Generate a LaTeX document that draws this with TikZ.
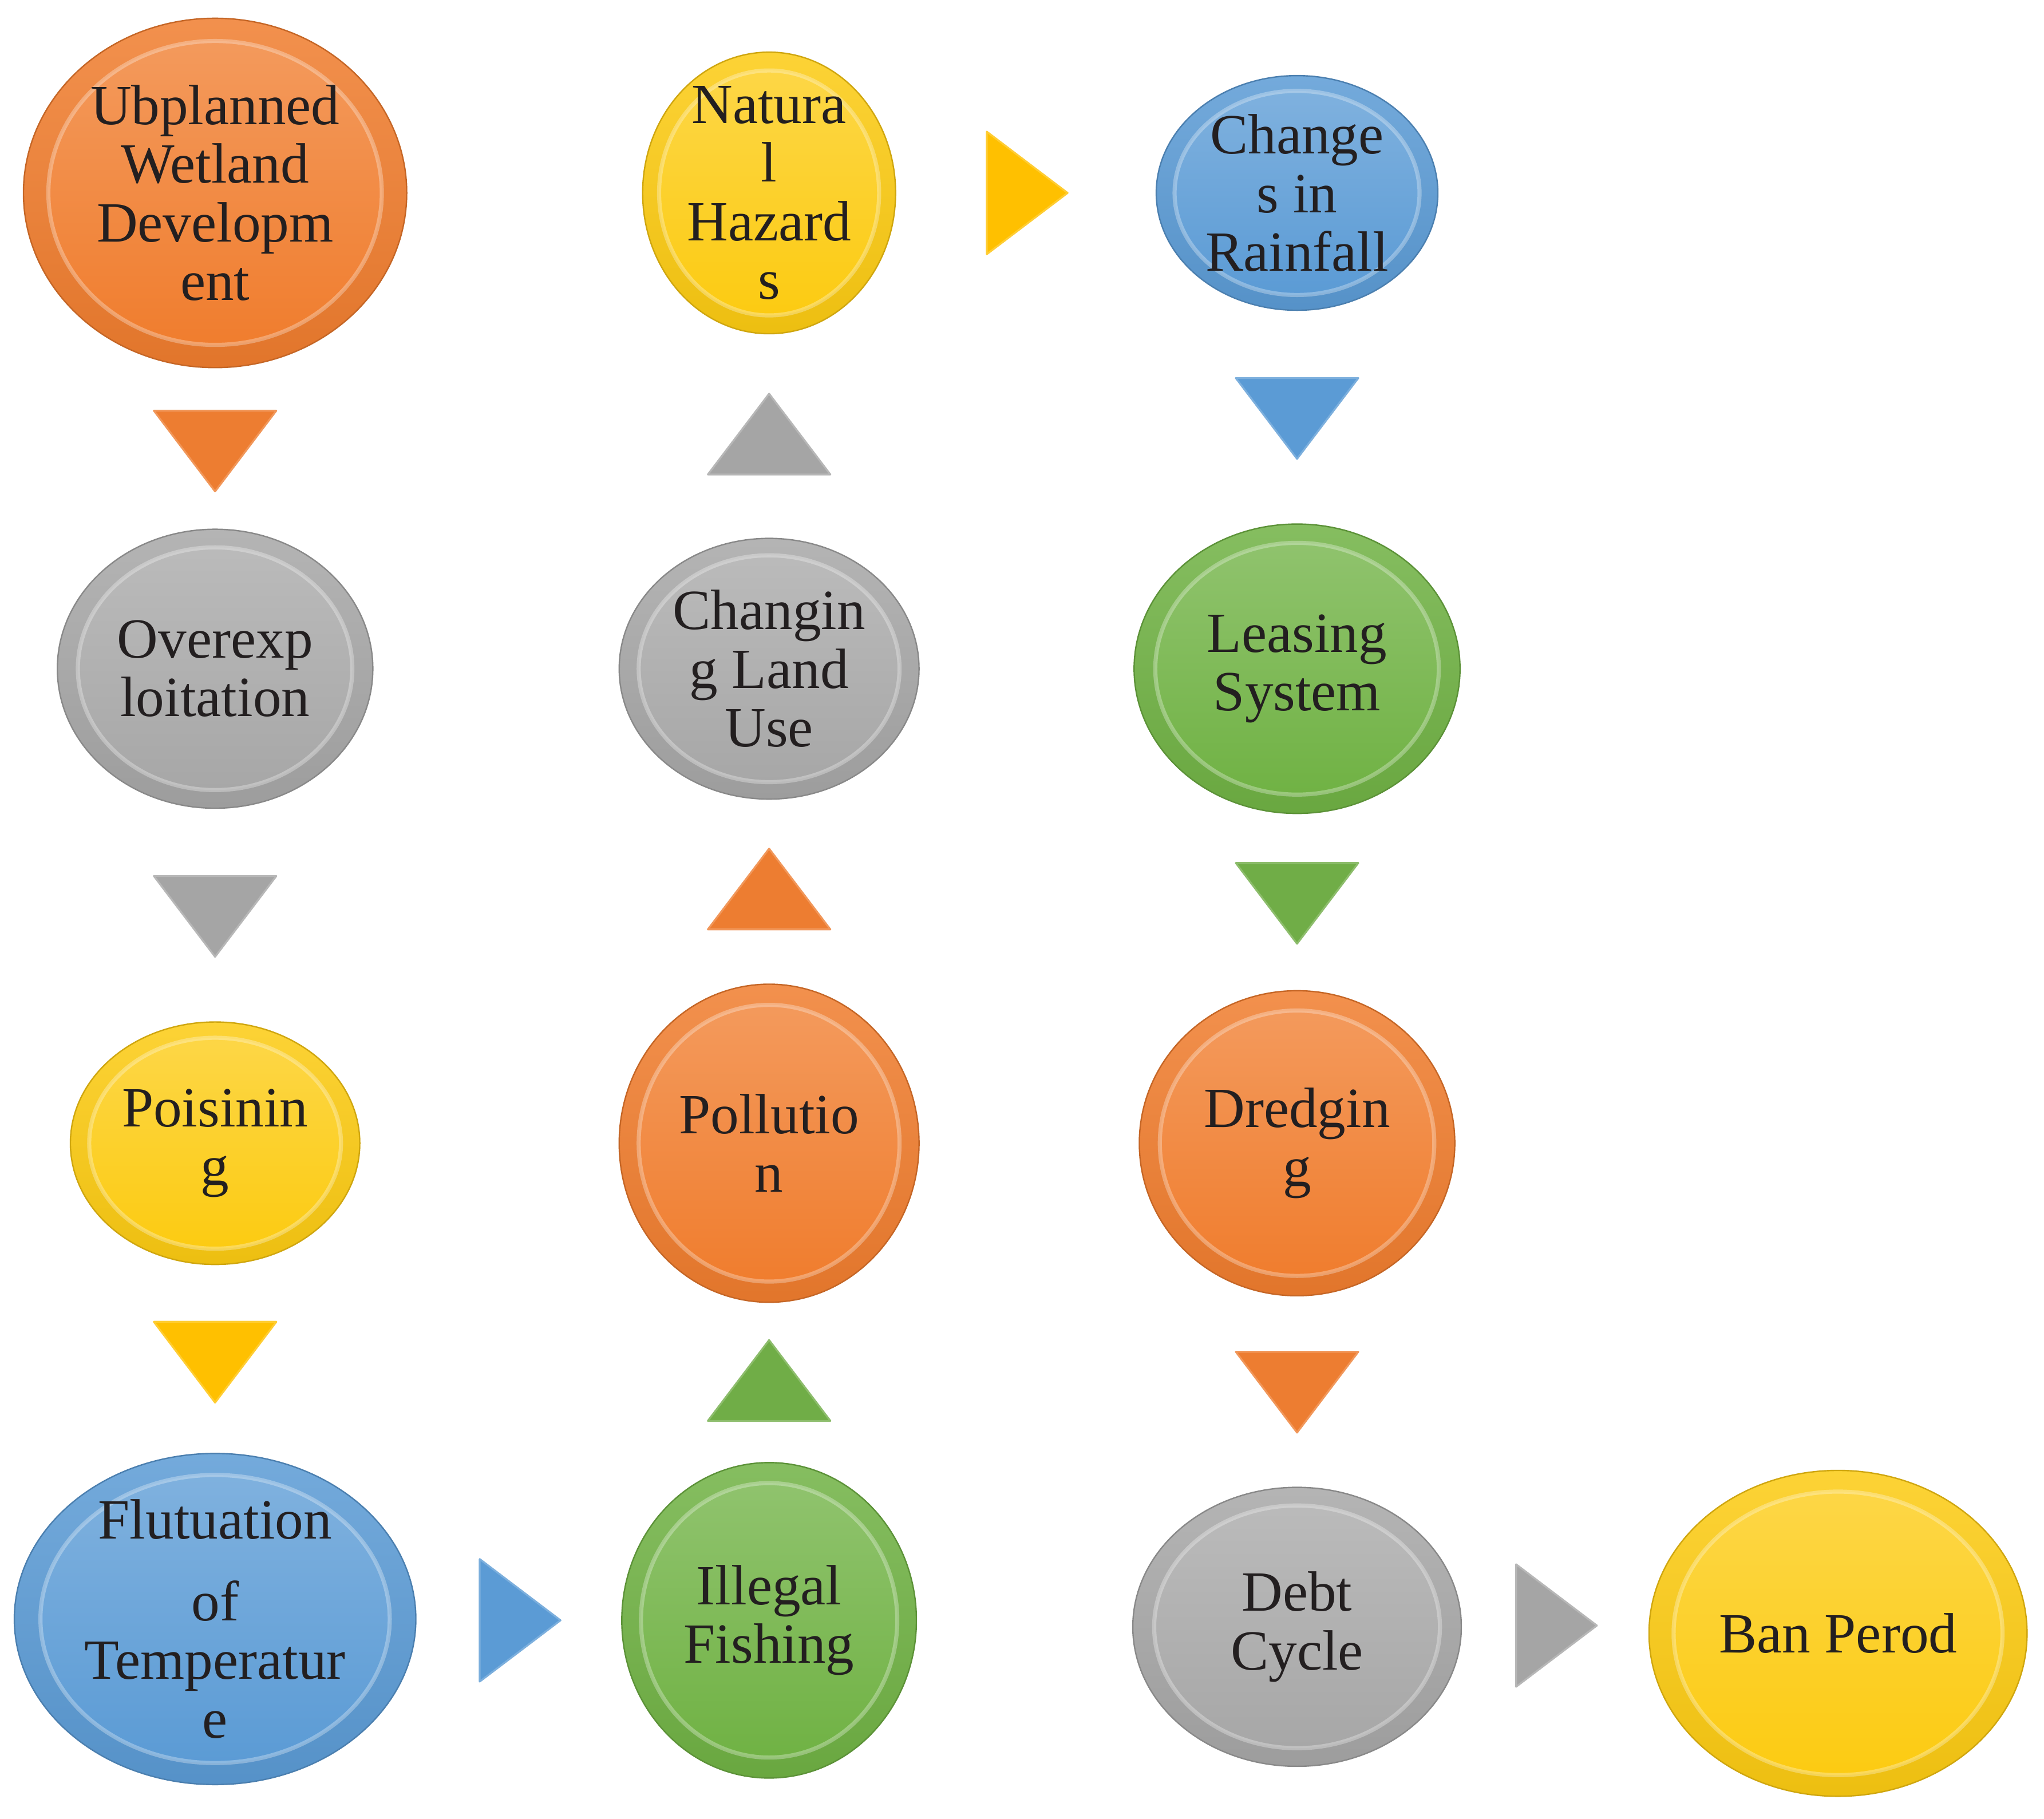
\documentclass[tikz,border=0pt]{standalone}
\usepackage{fontspec}
\setmainfont{Liberation Serif}
\usetikzlibrary{shapes.geometric,calc}
\definecolor{orangeC}{HTML}{F07D2E}
\definecolor{grayC}{HTML}{A7A7A7}
\definecolor{yellowC}{HTML}{FCCB12}
\definecolor{blueC}{HTML}{5B9BD5}
\definecolor{greenC}{HTML}{70B244}
\definecolor{orangeT}{HTML}{ED7D31}
\definecolor{grayT}{HTML}{A5A5A5}
\definecolor{yellowT}{HTML}{FFC000}
\definecolor{blueT}{HTML}{5B9BD5}
\definecolor{greenT}{HTML}{70AD47}
\definecolor{textc}{HTML}{231F20}
\tikzset{
  bubtext/.style={ellipse, inner sep=0pt, align=center, text=textc,
    font=\fontsize{12.4}{12.8}\selectfont},
  outerbub/.style={top color=#1!85!white, bottom color=#1!94!black, draw=#1!82!black, line width=0.3pt},
  innerbub/.style={top color=#1!78!white, bottom color=#1, draw=white, draw opacity=0.3, line width=0.9pt},
  trifill/.style={fill=#1, draw=#1!80!white, line width=0.4pt, line join=round}
}
% name, x, y, rx, ry, colour, text
\newcommand\bub[7]{%
  \shade[outerbub=#6] (#2,#3) ellipse [x radius=#4, y radius=#5];
  \shade[innerbub=#6] (#2,#3) ellipse [x radius={0.87*#4}, y radius={0.87*#5}];
  \node[bubtext, minimum width={#4*0.2mm}, minimum height={#5*0.2mm}] (#1) at (#2,#3) {#7};
}
\newcommand\tridown[4]{%
  \coordinate (#1) at (#2,#3);
  \fill[trifill=#4] ($(#1)+(-47,-31)$) -- ($(#1)+(47,-31)$) -- ($(#1)+(0,31)$) -- cycle;
}
\newcommand\triup[4]{%
  \coordinate (#1) at (#2,#3);
  \fill[trifill=#4] ($(#1)+(-47,31)$) -- ($(#1)+(47,31)$) -- ($(#1)+(0,-31)$) -- cycle;
}
\newcommand\triright[4]{%
  \coordinate (#1) at (#2,#3);
  \fill[trifill=#4] ($(#1)+(-31,-47)$) -- ($(#1)+(-31,47)$) -- ($(#1)+(31,0)$) -- cycle;
}
\begin{document}
\begin{tikzpicture}[x=0.1mm, y=-0.1mm]
\useasboundingbox (0,0) rectangle (1568,1395);
% column 1
\bub{n1}{165}{148}{147}{134}{orangeC}{Ubplanned\\Wetland\\Developm\\ent}
\bub{n2}{165}{513}{121}{107}{grayC}{Overexp\\loitation}
\bub{n3}{165}{877}{111}{93}{yellowC}{Poisinin\\g}
\bub{n4}{165}{1242}{154}{127}{blueC}{Flutuation\\[5pt]of\\Temperatur\\e}
% column 2
\bub{n5}{590}{1243}{113}{121}{greenC}{Illegal\\Fishing}
\bub{n6}{590}{877}{115}{122}{orangeC}{Pollutio\\n}
\bub{n7}{590}{513}{115}{100}{grayC}{Changin\\g Land\\Use}
\bub{n8}{590}{148}{97}{108}{yellowC}{Natura\\l\\Hazard\\s}
% column 3
\bub{n9}{995}{148}{108}{90}{blueC}{Change\\s in\\Rainfall}
\bub{n10}{995}{513}{125}{111}{greenC}{Leasing\\System}
\bub{n11}{995}{877}{121}{117}{orangeC}{Dredgin\\g}
\bub{n12}{995}{1248}{126}{107}{grayC}{Debt\\Cycle}
% column 4
\bub{n13}{1410}{1253}{145}{125}{yellowC}{Ban Perod}
% triangles
\tridown{a1}{165}{346}{orangeT}
\tridown{a2}{165}{703}{grayT}
\tridown{a3}{165}{1045}{yellowT}
\triright{a4}{399}{1243}{blueT}
\triup{a5}{590}{1059}{greenT}
\triup{a6}{590}{682}{orangeT}
\triup{a7}{590}{333}{grayT}
\triright{a8}{788}{148}{yellowT}
\tridown{a9}{995}{321}{blueT}
\tridown{a10}{995}{693}{greenT}
\tridown{a11}{995}{1068}{orangeT}
\triright{a12}{1194}{1247}{grayT}
\end{tikzpicture}
\end{document}
